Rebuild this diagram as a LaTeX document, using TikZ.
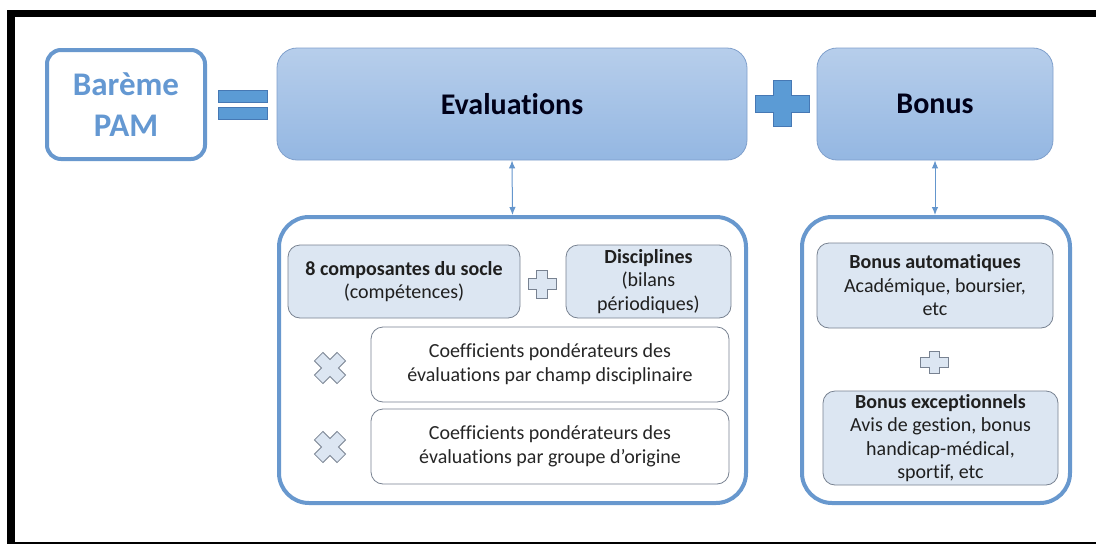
\documentclass[tikz,border=0pt]{standalone}
\usepackage{fontspec}
\setmainfont{Carlito}[Ligatures=NoCommon]
\usetikzlibrary{arrows.meta}
\definecolor{frameblue}{RGB}{104,152,206}
\definecolor{titleblue}{RGB}{100,152,210}
\definecolor{topfill}{RGB}{183,206,235}
\definecolor{botfill}{RGB}{148,183,226}
\definecolor{topline}{RGB}{128,160,204}
\definecolor{signfill}{RGB}{91,155,213}
\definecolor{signline}{RGB}{70,120,180}
\definecolor{lightfill}{RGB}{220,230,242}
\definecolor{greyline}{RGB}{120,130,145}
\definecolor{arrowblue}{RGB}{100,150,205}
\tikzset{
  mainbox/.style={draw=topline, line width=0.8pt, rounded corners=20pt, top color=topfill, bottom color=botfill, font=\fontsize{30}{36}\selectfont\bfseries, text=black!90!blue, inner sep=0pt},
  container/.style={draw=frameblue, line width=4pt, rounded corners=30pt, fill=white, inner sep=0pt},
  innerbox/.style={draw=greyline, line width=0.8pt, rounded corners=12pt, fill=lightfill, align=center, font=\fontsize{20}{23.5}\selectfont, text=black!88, inner sep=0pt},
  coefbox/.style={draw=greyline, line width=0.8pt, rounded corners=12pt, fill=white, align=center, font=\fontsize{20}{24}\selectfont, text=black!85, inner sep=0pt},
  bigsign/.style={fill=signfill, draw=signline, line width=0.8pt},
  smallsign/.style={fill=lightfill, draw=greyline, line width=0.8pt},
  link/.style={draw=arrowblue, line width=1pt, {Latex[length=8pt,width=6.5pt]}-{Latex[length=8pt,width=6.5pt]}}
}
\begin{document}
\begin{tikzpicture}[x=1pt, y=-1pt]
\useasboundingbox (0,0) rectangle (1096,544);
\fill[white] (0,0) rectangle (1096,544);
% black frame
\fill[black] (7,10) rectangle (1096,17);
\fill[black] (7,10) rectangle (15,544);
\fill[black] (7,541.5) rectangle (1096,544);

% Barème PAM
\node[draw=frameblue, line width=4pt, rounded corners=14pt, minimum width=158pt, minimum height=109pt, inner sep=0pt, align=center, text=titleblue, font=\fontsize{33}{41}\selectfont\bfseries] (bareme) at (126,104.5) {Barème\\PAM};

% equals sign
\draw[bigsign] (218,90) rectangle (267,102);
\draw[bigsign] (218,107) rectangle (267,119);

% top boxes
\node[mainbox, minimum width=470pt, minimum height=112pt] (eval) at (512,104) {Evaluations};
\node[mainbox, minimum width=236pt, minimum height=112pt] (bonus) at (935,104) {Bonus};

% big plus
\draw[bigsign, shift={(782,103.5)}] (-9,-23) -- (9,-23) -- (9,-8.5) -- (27,-8.5) -- (27,8.5) -- (9,8.5) -- (9,23) -- (-9,23) -- (-9,8.5) -- (-27,8.5) -- (-27,-8.5) -- (-9,-8.5) -- cycle;

% containers
\node[container, minimum width=467pt, minimum height=286pt] (leftc) at (512.5,360) {};
\node[container, minimum width=268pt, minimum height=286pt] (rightc) at (936,360) {};

% links
\draw[link] (eval.south) -- (leftc.north);
\draw[link] (bonus.south) -- (bonus.south |- rightc.north);

% left content
\node[innerbox, minimum width=232pt, minimum height=73pt] (comp) at (404,281.5) {\textbf{8 composantes du socle}\\(compétences)};
\node[innerbox, minimum width=165pt, minimum height=73pt] (disc) at (648.5,281.5) {\textbf{Disciplines}\\(bilans\\périodiques)};
\draw[smallsign, shift={(542,284)}] (-5.5,-14) -- (5.5,-14) -- (5.5,-5.5) -- (14,-5.5) -- (14,5.5) -- (5.5,5.5) -- (5.5,14) -- (-5.5,14) -- (-5.5,5.5) -- (-14,5.5) -- (-14,-5.5) -- (-5.5,-5.5) -- cycle;

\node[coefbox, minimum width=358pt, minimum height=75pt] (coef1) at (550,364.5) {Coefficients pondérateurs des\\évaluations par champ disciplinaire};
\node[coefbox, minimum width=358pt, minimum height=75pt] (coef2) at (550,446.5) {Coefficients pondérateurs des\\évaluations par groupe d’origine};

\foreach \yy in {368,447}{
  \draw[smallsign, shift={(330,\yy)}, rotate=45] (-6,-16) -- (6,-16) -- (6,-6) -- (16,-6) -- (16,6) -- (6,6) -- (6,16) -- (-6,16) -- (-6,6) -- (-16,6) -- (-16,-6) -- (-6,-6) -- cycle;
}

% right content
\node[innerbox, minimum width=236pt, minimum height=85pt] (bauto) at (935,285.5) {\textbf{Bonus automatiques}\\Académique, boursier,\\etc};
\draw[smallsign, shift={(934,362)}] (-5,-11) -- (5,-11) -- (5,-5) -- (14,-5) -- (14,5) -- (5,5) -- (5,11) -- (-5,11) -- (-5,5) -- (-14,5) -- (-14,-5) -- (-5,-5) -- cycle;
\node[innerbox, minimum width=235pt, minimum height=94pt] (bexc) at (940.5,438) {\textbf{Bonus exceptionnels}\\Avis de gestion, bonus\\handicap-médical,\\sportif, etc};
\end{tikzpicture}
\end{document}
